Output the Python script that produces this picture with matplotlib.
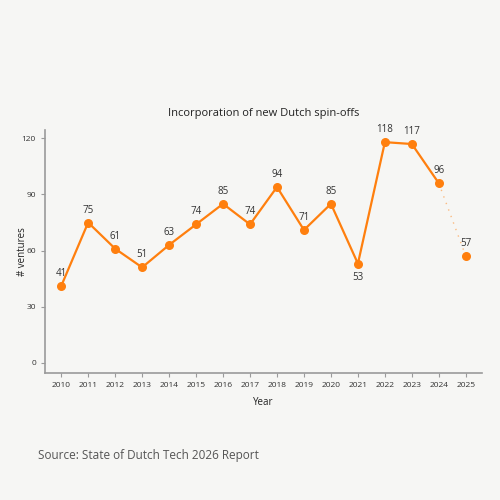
import matplotlib.pyplot as plt

years = [2010, 2011, 2012, 2013, 2014, 2015, 2016, 2017,
         2018, 2019, 2020, 2021, 2022, 2023, 2024, 2025]
ventures = [41, 75, 61, 51, 63, 74, 85, 74, 94, 71, 85, 53, 118, 117, 96, 57]
y_ticks = [0, 30, 60, 90, 120]

ORANGE = "#ff7f0e"
BG = "#f6f6f4"
GRAY = "#9a9a9a"

plt.rcParams['font.family'] = ['Open Sans', 'DejaVu Sans']


def main():
    fig = plt.figure(figsize=(5, 5), dpi=100, facecolor=BG)
    ax = fig.add_axes([0.09, 0.254, 0.874, 0.486], facecolor=BG)

    # solid line up to 2024, dotted for the last (partial) year
    ax.plot(years[:-1], ventures[:-1], color=ORANGE, lw=1.6, zorder=2)
    ax.plot(years[-2:], ventures[-2:], color=ORANGE, lw=1, ls=(0, (1, 4)),
            alpha=0.5, zorder=1)
    ax.scatter(years, ventures, s=30, color=ORANGE, zorder=3)

    for x, v in zip(years, ventures):
        if v == 53:
            ax.annotate(str(v), (x, v), xytext=(0, -6), textcoords="offset points",
                        ha="center", va="top", fontsize=7, color="#333333")
        else:
            ax.annotate(str(v), (x, v), xytext=(0, 5), textcoords="offset points",
                        ha="center", va="bottom", fontsize=7, color="#333333")

    ax.set_xlim(2009.4, 2025.6)
    ax.set_ylim(-5.5, 124.5)
    ax.set_xticks(years)
    ax.set_xticklabels([str(y) for y in years], fontsize=6)
    ax.set_yticks(y_ticks)
    ax.set_yticklabels([str(t) for t in y_ticks], fontsize=6)
    ax.tick_params(colors="#333333", length=3, width=0.8)
    ax.tick_params(axis="both", color=GRAY)

    for s in ["top", "right"]:
        ax.spines[s].set_visible(False)
    for s in ["left", "bottom"]:
        ax.spines[s].set_color(GRAY)
        ax.spines[s].set_linewidth(1.2)

    ax.set_title("Incorporation of new Dutch spin-offs", fontsize=8,
                 color="#222222", pad=10)
    ax.set_xlabel("Year", fontsize=7, color="#222222", labelpad=6)
    ax.set_ylabel("# ventures", fontsize=7, color="#222222")
    ax.yaxis.set_label_coords(-0.04, 0.5)

    fig.text(0.076, 0.09, "Source: State of Dutch Tech 2026 Report",
             fontsize=8.5, color="#555555", ha="left", va="center")

    fig.savefig("out.png", dpi=100, facecolor=BG)
    plt.close(fig)


if __name__ == "__main__":
    main()
